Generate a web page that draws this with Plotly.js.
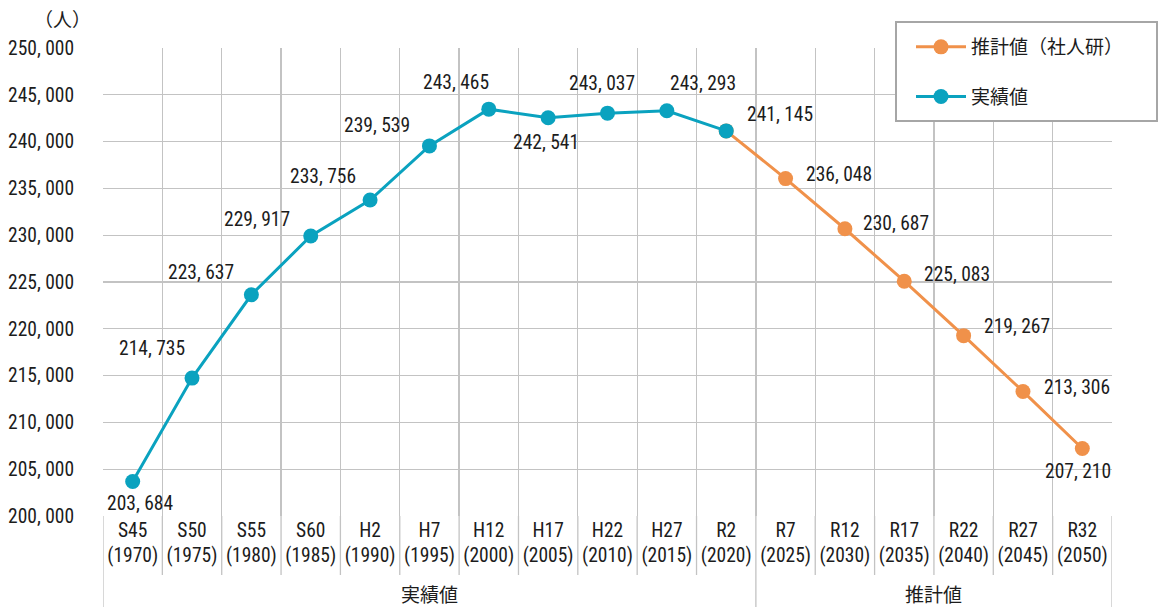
<!DOCTYPE html>
<html>
<head>
<meta charset="utf-8">
<script src="https://cdn.plot.ly/plotly-3.0.1.min.js"></script>
<style>
html,body{margin:0;padding:0;background:#fff;}
#chart{width:1158px;height:607px;}
#chart svg text{font-stretch:condensed;}
</style>
</head>
<body>
<div id="chart"></div>
<script>
// ---- data ----
const categories = ['S45','S50','S55','S60','H2','H7','H12','H17','H22','H27','R2','R7','R12','R17','R22','R27','R32'];
const years = [1970,1975,1980,1985,1990,1995,2000,2005,2010,2015,2020,2025,2030,2035,2040,2045,2050];
const actualCats = ['S45','S50','S55','S60','H2','H7','H12','H17','H22','H27','R2'];
const actualValues = [203684,214735,223637,229917,233756,239539,243465,242541,243037,243293,241145];
const projCats = ['R2','R7','R12','R17','R22','R27','R32'];
const projValues = [241145,236048,230687,225083,219267,213306,207210];
const yTickVals = [200000,205000,210000,215000,220000,225000,230000,235000,240000,245000,250000];
const yTickText = ['200, 000','205, 000','210, 000','215, 000','220, 000','225, 000','230, 000','235, 000','240, 000','245, 000','250, 000'];
const groupLabels = ['実績値','推計値'];
const groupFirst = ['S45','R7'];
const groupLast = ['R2','R32'];
const actualName = '実績値';
const projName = '推計値（社人研）';
const unitLabel = '（人）';

// ---- styles ----
const NUM_FONT = '"Roboto Condensed", "DejaVu Sans", "Noto Sans CJK JP", sans-serif';
const CJK_FONT = '"Noto Sans CJK JP", sans-serif';
const NUM_SIZE = 19.5;
const TEAL = '#0aa2bf';
const ORANGE = '#f0914a';
const GRID = '#c3c3c3';
const TXT = '#1c1c1c';
// label offsets in px (dx right, dy down)
const actualLabelOff = [[7,22],[-40,-30],[-50,-22],[-54,-16],[-47,-24],[-52,-20],[-33,-27],[-2,25],[-6,-30],[36,-27],[54,-16]];
const projLabelOff = [null,[53,-4],[51,-5],[53,-7],[53,-9],[54,-4],[-4,23]];

function fmt(v){ return Math.floor(v/1000) + ', ' + String(v%1000).padStart(3,'0'); }

const traces = [
  {type:'scatter', mode:'lines+markers', name:projName, x:projCats, y:projValues,
   line:{color:ORANGE, width:3}, marker:{color:ORANGE, size:15}, legendgroup:'p', hoverinfo:'skip'},
  {type:'scatter', mode:'lines+markers', name:actualName, x:actualCats, y:actualValues,
   line:{color:TEAL, width:3}, marker:{color:TEAL, size:15}, legendgroup:'a', hoverinfo:'skip'}
];

const annotations = [];
function addLabel(c, v, o){
  annotations.push({x:c, y:v, xref:'x', yref:'y', text:fmt(v), showarrow:false,
    xshift:o[0], yshift:-o[1], xanchor:'center', yanchor:'middle', font:{family:NUM_FONT, size:NUM_SIZE, color:TXT}});
}
actualCats.forEach((c,i)=> addLabel(c, actualValues[i], actualLabelOff[i]));
projCats.forEach((c,i)=>{ if(projLabelOff[i]) addLabel(c, projValues[i], projLabelOff[i]); });

const plotW = 1158-103-46;
const plotH = 607-48-91;
annotations.push({xref:'paper', yref:'paper', x:-41/plotW, y:1+30/plotH, text:unitLabel, showarrow:false,
  xanchor:'center', yanchor:'middle', font:{family:CJK_FONT, size:19, color:TXT}});
groupLabels.forEach((g,i)=>{
  const a = categories.indexOf(groupFirst[i]), b = categories.indexOf(groupLast[i]);
  annotations.push({xref:'x', yref:'paper', x:(a+b)/2, y:-77/plotH, text:g, showarrow:false,
    xanchor:'center', yanchor:'middle', font:{family:CJK_FONT, size:19, color:TXT}});
});

const shapes = [];
const groupBounds = [0, categories.indexOf(groupFirst[1]), categories.length];
for(let k=0;k<=categories.length;k++){
  const isGroup = groupBounds.includes(k);
  shapes.push({type:'line', xref:'x', yref:'paper', x0:k-0.5, x1:k-0.5, y0:0, y1: isGroup ? -91/plotH : -59/plotH,
    line:{color:GRID, width:1.3}, layer:'below'});
}
// legend frame
shapes.push({type:'rect', xref:'paper', yref:'paper', x0:(896-103)/plotW, x1:(1157-103)/plotW,
  y0:1+(48-121)/plotH, y1:1+(48-22)/plotH, fillcolor:'#ffffff', line:{color:'#a6a6a6', width:2}, layer:'above'});

const layout = {
  width:1158, height:607,
  margin:{l:103, r:46, t:48, b:91, pad:0},
  paper_bgcolor:'#ffffff', plot_bgcolor:'#ffffff',
  font:{family:NUM_FONT, size:NUM_SIZE, color:TXT},
  xaxis:{type:'category', categoryorder:'array', categoryarray:categories, range:[-0.5,16.5],
    tickson:'boundaries', showgrid:true, gridcolor:GRID, gridwidth:1.3,
    tickvals:categories, ticktext:categories.map((c,i)=>c+'<br>('+years[i]+')'), tickangle:0,
    ticks:'outside', ticklen:9, tickcolor:'rgba(0,0,0,0)',
    tickfont:{family:NUM_FONT, size:NUM_SIZE, color:TXT}, showline:false, zeroline:false, automargin:false, fixedrange:true},
  yaxis:{range:[200000,250000], tickvals:yTickVals, ticktext:yTickText, showgrid:true, gridcolor:GRID, gridwidth:1.3,
    ticks:'outside', ticklen:24, tickcolor:'rgba(0,0,0,0)', tickfont:{family:NUM_FONT, size:NUM_SIZE, color:TXT},
    showline:false, zeroline:false, automargin:false, fixedrange:true},
  showlegend:true,
  legend:{x:(911-103)/plotW, y:1+(48-28)/plotH, xanchor:'left', yanchor:'top', bgcolor:'rgba(0,0,0,0)', borderwidth:0,
    font:{family:CJK_FONT, size:19, color:TXT}, traceorder:'grouped', tracegroupgap:22, itemwidth:50},
  annotations:annotations,
  shapes:shapes,
  hovermode:false
};

Plotly.newPlot('chart', traces, layout, {displayModeBar:false, staticPlot:true});
</script>
</body>
</html>
